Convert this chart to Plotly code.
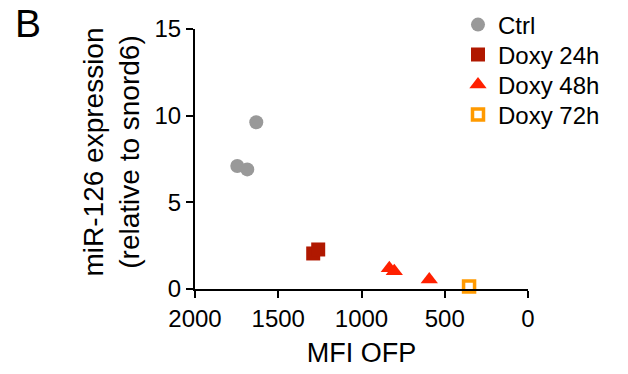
import plotly.graph_objects as go

# Data
ctrl_x = [1746, 1686, 1632]
ctrl_y = [7.1, 6.9, 9.62]
d24_x = [1290, 1260]
d24_y = [2.05, 2.28]
d48_x = [833, 803, 593]
d48_y = [1.2, 1.02, 0.55]
d72_x = [354]
d72_y = [0.15]

x_ticks = [2000, 1500, 1000, 500, 0]
y_ticks = [0, 5, 10, 15]

FONT = "Liberation Sans, Arial, Helvetica, sans-serif"

# plot area on screen spans x 195..528, y 29..289
PL, PT, PW, PH = 195, 29, 333, 260


def px(sx):
    return (sx - PL) / PW


def py(sy):
    return 1 - (sy - PT) / PH


fig = go.Figure()
fig.add_trace(go.Scatter(x=ctrl_x, y=ctrl_y, mode="markers", name="Ctrl", legend="legend",
                         marker=dict(symbol="circle", size=14, color="#999999")))
fig.add_trace(go.Scatter(x=d24_x, y=d24_y, mode="markers", name="Doxy 24h", legend="legend2",
                         marker=dict(symbol="square", size=14, color="#b01800")))
fig.add_trace(go.Scatter(x=d48_x, y=d48_y, mode="markers", name="Doxy 48h", legend="legend3",
                         marker=dict(symbol="triangle-up", size=15, color="#ff2000")))
fig.add_trace(go.Scatter(x=d72_x, y=d72_y, mode="markers", name="Doxy 72h", legend="legend4",
                         marker=dict(symbol="square-open", size=11, color="#ff9a00",
                                     line=dict(width=3.5, color="#ff9a00"))))
fig.update_traces(cliponaxis=False)

legend_style = dict(xanchor="left", yanchor="middle", bgcolor="rgba(0,0,0,0)",
                    font=dict(size=24), itemclick=False, itemdoubleclick=False)

fig.update_layout(
    width=628, height=374,
    margin=dict(l=PL, r=628 - PL - PW, t=PT, b=374 - PT - PH, autoexpand=False),
    plot_bgcolor="white", paper_bgcolor="white",
    font=dict(family=FONT, size=24, color="black"),
    showlegend=True,
    legend=dict(x=px(458), y=py(25), **legend_style),
    legend2=dict(x=px(458), y=py(55), **legend_style),
    legend3=dict(x=px(458), y=py(85), **legend_style),
    legend4=dict(x=px(458), y=py(115), **legend_style),
    xaxis=dict(range=[2000, 0], tickvals=x_ticks, ticktext=[str(v) for v in x_ticks],
               tickfont=dict(size=24, family=FONT),
               showgrid=False, zeroline=False, showline=True, linecolor="black",
               linewidth=2, ticks="outside", ticklen=7, tickwidth=2, tickcolor="black",
               automargin=False,
               title=dict(text="MFI OFP", font=dict(size=27), standoff=12)),
    yaxis=dict(range=[0, 15], tickvals=y_ticks, ticktext=[str(v) for v in y_ticks],
               tickfont=dict(size=24, family=FONT),
               showgrid=False, zeroline=False, showline=True, linecolor="black",
               linewidth=2, ticks="outside", ticklen=7, tickwidth=2, tickcolor="black",
               automargin=False),
)
fig.add_annotation(text="miR-126 expression<br>(relative to snord6)", xref="paper", yref="paper",
                   x=px(111), y=py(152.5), xanchor="center", yanchor="middle", textangle=-90,
                   showarrow=False, font=dict(size=28, family=FONT))
fig.add_annotation(text="B", xref="paper", yref="paper",
                   x=px(13), y=py(23.5), xanchor="left", yanchor="middle",
                   showarrow=False, font=dict(size=39, family=FONT))

fig.write_html("out.html", config={"displayModeBar": False},
               post_script="document.body.style.margin='0';document.body.style.padding='0';")
